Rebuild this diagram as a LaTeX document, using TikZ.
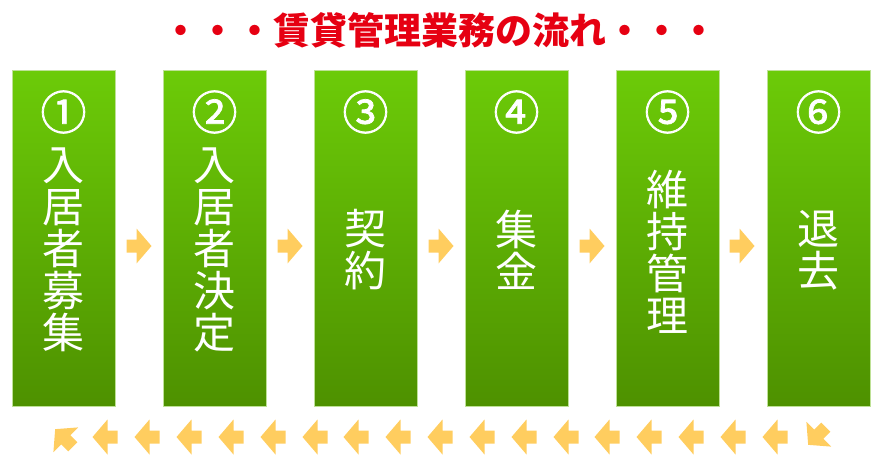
\documentclass[tikz,border=0pt]{standalone}
\usepackage{fontspec}
\newfontfamily\cjk{Noto Sans CJK JP}
\newfontfamily\cjknum{Noto Sans CJK JP}[FakeBold=1.6]
\usepackage{tikz}

\definecolor{boxtop}{RGB}{108,203,8}
\definecolor{boxbottom}{RGB}{78,145,0}
\definecolor{boxedge}{RGB}{190,225,150}
\definecolor{arrowfill}{RGB}{255,205,95}
\definecolor{titlered}{RGB}{230,0,18}

\tikzset{
  stepbox/.style={minimum width=103pt, minimum height=336pt, inner sep=0pt,
    top color=boxtop, bottom color=boxbottom, draw=boxedge, line width=0.6pt},
  stepnum/.style={text=white, inner sep=0pt, font=\cjknum\fontsize{46}{46}\selectfont},
  steptext/.style={text=white, align=center, inner sep=0pt, font=\cjk\fontsize{42}{42}\selectfont},
  flowarrow/.pic={
    \fill[arrowfill] (-12.5,-6.5) -- (-2.5,-6.5) -- (-2.5,-17.5) -- (12.5,0)
      -- (-2.5,17.5) -- (-2.5,6.5) -- (-12.5,6.5) -- cycle;
  }
}

\begin{document}
\begin{tikzpicture}[x=1pt, y=-1pt]

    \useasboundingbox (0,0) rectangle (880,466);

    \node[text=titlered, font=\cjk\bfseries\fontsize{37}{37}\selectfont] (title) at (440,30) {・・・賃貸管理業務の流れ・・・};


    \node[stepbox] (s1) at (63.5,238) {};

    \node[stepbox] (s2) at (214.5,238) {};

    \node[stepbox] (s3) at (365.5,238) {};

    \node[stepbox] (s4) at (516.5,238) {};

    \node[stepbox] (s5) at (667.5,238) {};

    \node[stepbox] (s6) at (818.5,238) {};


    \node[stepnum] (n1) at (63.5,112) {①};

    \node[stepnum] (n2) at (214.5,112) {②};

    \node[stepnum] (n3) at (365.5,112) {③};

    \node[stepnum] (n4) at (516.5,112) {④};

    \node[stepnum] (n5) at (667.5,112) {⑤};

    \node[stepnum] (n6) at (818.5,112) {⑥};


    \node[steptext] (t1) at (63.5,250) {入\\居\\者\\募\\集};

    \node[steptext] (t2) at (214.5,250) {入\\居\\者\\決\\定};

    \node[steptext] (t3) at (365.5,250) {契\\約};

    \node[steptext] (t4) at (516.5,250) {集\\金};

    \node[steptext] (t5) at (667.5,252) {維\\持\\管\\理};

    \node[steptext] (t6) at (818.5,250) {退\\去};


    \pic at (139,246) {flowarrow};

    \pic at (290,246) {flowarrow};

    \pic at (441,246) {flowarrow};

    \pic at (592,246) {flowarrow};

    \pic at (742,246) {flowarrow};


    \pic[rotate=225] at (817,436) {flowarrow};

    \pic[rotate=180] at (775,437) {flowarrow};

    \pic[rotate=180] at (733,437) {flowarrow};

    \pic[rotate=180] at (691,437) {flowarrow};

    \pic[rotate=180] at (649,437) {flowarrow};

    \pic[rotate=180] at (607,437) {flowarrow};

    \pic[rotate=180] at (566,437) {flowarrow};

    \pic[rotate=180] at (524,437) {flowarrow};

    \pic[rotate=180] at (482,437) {flowarrow};

    \pic[rotate=180] at (440,437) {flowarrow};

    \pic[rotate=180] at (398,437) {flowarrow};

    \pic[rotate=180] at (356,437) {flowarrow};

    \pic[rotate=180] at (315,437) {flowarrow};

    \pic[rotate=180] at (273,437) {flowarrow};

    \pic[rotate=180] at (231,437) {flowarrow};

    \pic[rotate=180] at (189,437) {flowarrow};

    \pic[rotate=180] at (147,437) {flowarrow};

    \pic[rotate=180] at (105,437) {flowarrow};

    \pic[rotate=135] at (64,438) {flowarrow};

  \end{tikzpicture}
\end{document}
